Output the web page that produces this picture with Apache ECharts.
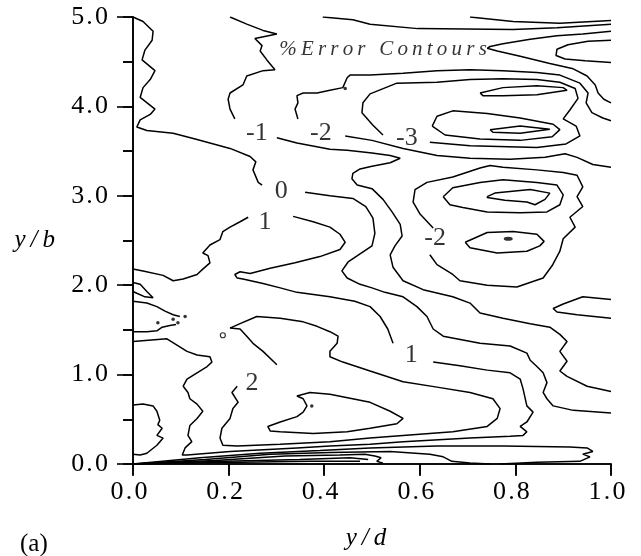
<!DOCTYPE html>
<html><head><meta charset="utf-8">
<script src="https://cdn.jsdelivr.net/npm/echarts/dist/echarts.min.js"></script>
<style>html,body{margin:0;padding:0;background:#fff}#c{width:641px;height:556px}</style>
</head><body><div id="c"></div>
<script>
// ---- data (x = y/d, y = y/b) ----
const c01=[[0,5],[0.021,4.95],[0.042,4.84],[0.040,4.74],[0.025,4.63],[0.019,4.52],[0.046,4.40],[0.036,4.30],[0.021,4.21],[0.015,4.10],[0.046,3.97],[0.036,3.91],[0.015,3.85],[0.008,3.77],[0.029,3.73],[0.084,3.70],[0.134,3.63],[0.203,3.53],[0.245,3.44],[0.257,3.38],[0.251,3.29],[0.262,3.15],[0.270,3.12]];
const c02=[[0.360,3.04],[0.412,3.00],[0.460,2.97],[0.487,2.88],[0.502,2.75],[0.506,2.58],[0.500,2.44],[0.475,2.35],[0.450,2.26],[0.437,2.16],[0.448,2.08],[0.475,2.01],[0.500,1.97],[0.527,1.92],[0.565,1.87],[0.594,1.76],[0.615,1.65],[0.628,1.51],[0.649,1.43],[0.726,1.35],[0.789,1.32],[0.824,1.24],[0.831,1.16],[0.845,1.09],[0.858,1.02],[0.866,0.91],[0.858,0.80],[0.866,0.73],[0.879,0.65],[0.921,0.60],[1.0,0.57]];
const c03=[[0.203,5],[0.238,4.92],[0.272,4.85],[0.301,4.81],[0.255,4.76],[0.270,4.68],[0.266,4.62],[0.280,4.52],[0.297,4.41],[0.272,4.40],[0.238,4.34],[0.230,4.24],[0.203,4.15],[0.199,4.08],[0.203,3.97],[0.213,3.86]];
const c04=[[0.301,3.65],[0.343,3.59],[0.412,3.52],[0.448,3.51],[0.500,3.48],[0.538,3.45],[0.559,3.42],[0.538,3.37],[0.500,3.33],[0.475,3.30],[0.460,3.25],[0.458,3.19],[0.469,3.12],[0.500,3.08],[0.523,2.96],[0.542,2.82],[0.559,2.68],[0.563,2.55],[0.548,2.44],[0.538,2.34],[0.544,2.20],[0.565,2.05],[0.607,1.95],[0.669,1.87],[0.705,1.80],[0.726,1.69],[0.774,1.63],[0.831,1.57],[0.872,1.53],[0.893,1.45],[0.908,1.37],[0.893,1.26],[0.908,1.15],[0.893,1.04],[0.908,0.98],[0.950,0.87],[1.0,0.81]];
const c05=[[0.345,3.86],[0.339,3.97],[0.345,4.04],[0.343,4.12],[0.356,4.15],[0.385,4.15],[0.412,4.18],[0.439,4.21],[0.448,4.32],[0.454,4.35],[0.496,4.35],[0.565,4.37],[0.636,4.40],[0.705,4.41],[0.774,4.40],[0.845,4.38],[0.893,4.35],[0.935,4.26],[0.952,4.15],[0.948,4.04],[0.960,3.93],[0.983,3.87],[1.0,3.84]];
const c06=[[0.444,3.67],[0.500,3.62],[0.565,3.53],[0.636,3.45],[0.705,3.42],[0.789,3.41],[0.862,3.43],[0.904,3.47],[0.929,3.43],[0.962,3.35],[1.0,3.32]];
const c07=[[0.523,3.68],[0.502,3.79],[0.479,3.93],[0.481,4.04],[0.496,4.14],[0.552,4.26],[0.636,4.27],[0.705,4.30],[0.774,4.31],[0.845,4.30],[0.893,4.27],[0.925,4.20],[0.931,4.09],[0.914,3.96],[0.900,3.86],[0.927,3.78],[0.935,3.67],[0.906,3.58],[0.845,3.54],[0.705,3.56],[0.621,3.60]];
const c08=[[0.726,4.15],[0.774,4.21],[0.845,4.23],[0.900,4.21],[0.908,4.18],[0.845,4.13],[0.774,4.12],[0.732,4.12],[0.726,4.15]];
const c09=[[0.626,3.78],[0.636,3.89],[0.669,3.95],[0.741,3.92],[0.810,3.87],[0.879,3.80],[0.893,3.74],[0.877,3.66],[0.810,3.62],[0.726,3.635],[0.653,3.68],[0.626,3.78]];
const c10=[[0.747,3.74],[0.810,3.78],[0.872,3.745],[0.810,3.70],[0.753,3.71],[0.747,3.74]];
const c11=[[1.0,4.84],[0.941,4.81],[0.887,4.79],[0.831,4.75],[0.774,4.70],[0.747,4.67],[0.741,4.65],[0.762,4.62],[0.810,4.56],[0.872,4.48],[0.921,4.42],[0.950,4.34],[0.967,4.24],[0.973,4.15],[0.985,4.08],[1.0,4.04]];
const c12=[[1.0,4.74],[0.952,4.73],[0.910,4.69],[0.887,4.64],[0.885,4.57],[0.904,4.53],[0.946,4.51],[1.0,4.49]];
const c13=[[0.397,5],[0.460,4.97],[0.496,4.92],[0.596,4.87],[0.795,4.86],[0.887,4.88],[1.0,4.92]];
const c14=[[0.705,5],[0.795,4.95],[0.893,4.93],[1.0,4.96]];
const c15=[[0.741,2.99],[0.757,3.03],[0.831,3.07],[0.872,3.03],[0.862,2.96],[0.841,2.90],[0.824,2.93],[0.778,2.95],[0.741,2.98],[0.741,2.99]];
const c16=[[0.649,2.99],[0.669,3.09],[0.726,3.15],[0.774,3.18],[0.845,3.15],[0.887,3.12],[0.900,3.01],[0.893,2.90],[0.866,2.82],[0.810,2.81],[0.741,2.82],[0.690,2.87],[0.663,2.90],[0.649,2.99]];
const c17=[[0.628,2.64],[0.600,2.80],[0.586,2.93],[0.590,3.07],[0.615,3.15],[0.669,3.21],[0.726,3.31],[0.747,3.34],[0.774,3.32],[0.845,3.29],[0.900,3.26],[0.929,3.23],[0.941,3.10],[0.929,2.99],[0.941,2.88],[0.914,2.76],[0.925,2.65],[0.900,2.52],[0.893,2.38],[0.877,2.22],[0.858,2.08],[0.803,1.98],[0.741,2.00],[0.684,2.05],[0.669,2.12],[0.636,2.23],[0.621,2.34]];
const c18=[[0.695,2.48],[0.741,2.59],[0.795,2.60],[0.845,2.57],[0.860,2.49],[0.851,2.44],[0.824,2.38],[0.762,2.36],[0.705,2.42],[0.695,2.48]];
const c19=[[1.0,1.84],[0.941,1.87],[0.900,1.79],[0.879,1.74],[0.887,1.70],[0.929,1.67],[1.0,1.63]];
const c20=[[0,2.18],[0.021,2.16],[0.063,2.11],[0.084,2.05],[0.105,2.07],[0.134,2.12],[0.146,2.18],[0.161,2.25],[0.157,2.33],[0.146,2.36],[0.161,2.45],[0.182,2.51],[0.188,2.60],[0.203,2.65],[0.224,2.71],[0.241,2.76]];
const c21=[[0.335,2.77],[0.377,2.71],[0.412,2.65],[0.433,2.57],[0.444,2.48],[0.433,2.40],[0.391,2.32],[0.339,2.25],[0.287,2.19],[0.245,2.13],[0.224,2.15],[0.213,2.12],[0.218,2.08],[0.230,2.07],[0.272,2.02],[0.308,1.97],[0.343,1.92],[0.412,1.87],[0.464,1.82],[0.496,1.76],[0.517,1.65],[0.533,1.51],[0.544,1.35]];
const c22=[[0.628,1.14],[0.684,1.10],[0.741,1.05],[0.789,1.02],[0.810,0.95],[0.816,0.84],[0.824,0.65],[0.837,0.58],[0.824,0.47],[0.810,0.42],[0.824,0.36],[0.816,0.32],[0.789,0.31],[0.705,0.29],[0.565,0.25],[0.496,0.22],[0.412,0.20],[0.343,0.18],[0.203,0.14],[0.113,0.10],[0.103,0.10],[0.109,0.18],[0.123,0.25],[0.115,0.32],[0.119,0.43],[0.134,0.51],[0.146,0.59],[0.134,0.67],[0.119,0.73],[0.115,0.80],[0.105,0.87],[0.113,0.95],[0.134,1.02],[0.155,1.09],[0.165,1.14],[0.161,1.20],[0.134,1.22],[0.113,1.26],[0.071,1.40],[0,1.37]];
const c23=[[0.218,0.87],[0.207,0.80],[0.220,0.69],[0.209,0.62],[0.203,0.51],[0.186,0.40],[0.182,0.29],[0.188,0.21],[0.218,0.20],[0.308,0.22],[0.412,0.25],[0.496,0.29],[0.565,0.32],[0.669,0.36],[0.741,0.42],[0.762,0.51],[0.768,0.62],[0.753,0.73],[0.705,0.80],[0.636,0.86],[0.565,0.92],[0.496,1.04],[0.439,1.14],[0.412,1.20],[0.412,1.26],[0.427,1.35],[0.429,1.43],[0.412,1.48],[0.385,1.54],[0.356,1.59],[0.308,1.63],[0.259,1.65],[0.224,1.57],[0.203,1.52],[0.224,1.51],[0.238,1.43],[0.251,1.35],[0.272,1.26],[0.301,1.11]];
const c24=[[0.496,0.40],[0.552,0.45],[0.565,0.51],[0.538,0.59],[0.496,0.69],[0.412,0.78],[0.370,0.80],[0.343,0.76],[0.356,0.73],[0.364,0.65],[0.356,0.58],[0.343,0.53],[0.308,0.47],[0.282,0.42],[0.287,0.37],[0.308,0.36],[0.377,0.34],[0.448,0.36],[0.496,0.40]];
const c25=[[0,0.66],[0.021,0.67],[0.042,0.65],[0.050,0.59],[0.056,0.49],[0.052,0.44],[0.061,0.40],[0.050,0.32],[0.063,0.29],[0.050,0.21],[0.029,0.12],[0.015,0.10],[0,0.11]];
const c26=[[0,2.03],[0.015,2.01],[0.029,1.93],[0.042,1.86],[0.025,1.87],[0.008,1.91],[0,1.93]];
const c27=[[0,1.82],[0.029,1.80],[0.050,1.76],[0.067,1.71],[0.084,1.67],[0.098,1.65]];
const c28=[[0,1.48],[0.029,1.48],[0.050,1.49],[0.061,1.53],[0.077,1.55],[0.090,1.56]];
const f1=[[0,0],[0.140,0.07],[0.266,0.12],[0.391,0.15],[0.496,0.18],[0.636,0.20],[0.774,0.20],[0.914,0.19],[0.950,0.18],[0.962,0.14],[0.941,0.11],[0.956,0.08],[0.935,0.03],[0.845,0.02],[0.768,0]];
const f2=[[0,0],[0.172,0.04],[0.318,0.09],[0.433,0.10],[0.485,0.11],[0.506,0.09],[0.519,0.07],[0.510,0.03],[0.523,0.01]];
const f3=[[0,0],[0.151,0.05],[0.287,0.11],[0.412,0.13],[0.538,0.14],[0.621,0.11],[0.649,0.08],[0.667,0.03],[0.705,0.01],[0.747,0]];
const f4=[[0,0],[0.192,0.03],[0.349,0.05],[0.454,0.07],[0.492,0.05]];
const f5=[[0,0],[0.224,0.02],[0.370,0.03],[0.475,0.03]];
const labelTexts=['-1','-2','-3','0','1','-2','1','2'];
const labelPos=[[0.259,3.70],[0.393,3.70],[0.573,3.65],[0.310,3.05],[0.276,2.71],[0.632,2.53],[0.582,1.22],[0.249,0.90]];
const dotPts=[[0.052,1.58],[0.084,1.62],[0.094,1.58],[0.109,1.65],[0.374,0.65],[0.444,4.20]];
const openDots=[[0.188,1.44]];
const blobPt=[[0.785,2.52]];
const titleText='%Error Contours';
const titlePos=[[0.523,4.64]];
const xTicks=[0,0.2,0.4,0.6,0.8,1.0];
const yTicks=[0,1,2,3,4,5];

// ---- chart ----
const FF="'Liberation Serif','Times New Roman',serif";
const spTick=s=>s.split('').join('\u200A');
const sp=s=>s.split('').join('\u2009');
const contours=[c01,c02,c03,c04,c05,c06,c07,c08,c09,c10,c11,c12,c13,c14,c15,c16,c17,c18,c19,c20,c21,c22,c23,c24,c25,c26,c27,c28,f1,f2,f3,f4,f5];
const axisLine={show:true,lineStyle:{color:'#000',width:1.6}};
const series=contours.map(d=>({type:'line',data:d,symbol:'none',showSymbol:false,silent:true,
  lineStyle:{color:'#000',width:1.5},z:2}));
series.push({type:'scatter',data:dotPts,symbol:'circle',symbolSize:3.5,itemStyle:{color:'#000'},silent:true,z:3});
series.push({type:'scatter',data:openDots,symbol:'circle',symbolSize:5,itemStyle:{color:'#fff',borderColor:'#000',borderWidth:1.2},silent:true,z:3});
series.push({type:'scatter',data:blobPt,symbol:'circle',symbolSize:[9,4],itemStyle:{color:'#000'},silent:true,z:3});
series.push({type:'scatter',symbolSize:0,silent:true,z:4,
  data:labelPos.map((p,i)=>({value:p,name:labelTexts[i]})),
  label:{show:true,position:'inside',formatter:p=>p.name,fontFamily:FF,fontSize:26,color:'#000'}});
series.push({type:'scatter',symbolSize:0,silent:true,z:4,
  data:titlePos.map(p=>({value:p,name:titleText})),
  label:{show:true,position:'inside',formatter:p=>sp(p.name),fontFamily:FF,fontStyle:'italic',fontSize:21,color:'#000'}});

const chart=echarts.init(document.getElementById('c'),null,{renderer:'canvas'});
chart.setOption({
  animation:false,
  backgroundColor:'#fff',
  title:{text:'(a)',left:15,top:527,textStyle:{fontFamily:FF,fontSize:25,fontWeight:'normal',color:'#000'}},
  grid:{left:133,top:17,width:478,height:455,containLabel:false},
  xAxis:[
    {type:'value',min:xTicks[0],max:xTicks[xTicks.length-1],interval:0.2,position:'bottom',
     axisLine,axisTick:{show:true,inside:false,length:11,lineStyle:{color:'#000',width:1.6}},
     axisLabel:{formatter:v=>spTick(v.toFixed(1)),fontFamily:FF,fontSize:26,color:'#000',margin:15,padding:[0,8,0,0]},
     splitLine:{show:false},
     name:sp('y/d'),nameLocation:'middle',nameGap:62,
     nameTextStyle:{fontFamily:FF,fontStyle:'italic',fontSize:25,color:'#000',padding:[0,12,0,0]}},
    {type:'value',min:0,max:1,interval:0.2,position:'top',axisLine,
     axisTick:{show:true,inside:true,length:12,lineStyle:{color:'#000',width:1.6}},
     axisLabel:{show:false},splitLine:{show:false}}
  ],
  yAxis:[
    {type:'value',min:yTicks[0],max:yTicks[yTicks.length-1],interval:1,position:'left',
     axisLine,axisTick:{show:true,inside:false,length:16,lineStyle:{color:'#000',width:1.6}},
     minorTick:{show:true,splitNumber:2,length:10,lineStyle:{color:'#000',width:1.6}},
     axisLabel:{formatter:v=>spTick(v.toFixed(1)),fontFamily:FF,fontSize:26,color:'#000',margin:25},
     splitLine:{show:false},minorSplitLine:{show:false},
     name:sp('y/b'),nameLocation:'middle',nameGap:78,nameRotate:0,
     nameTextStyle:{fontFamily:FF,fontStyle:'italic',fontSize:25,color:'#000'}},
    {type:'value',min:0,max:5,interval:0.5,position:'right',axisLine,
     axisTick:{show:true,inside:true,length:10,lineStyle:{color:'#000',width:1.6}},
     axisLabel:{show:false},splitLine:{show:false}}
  ],
  series
});
</script></body></html>
